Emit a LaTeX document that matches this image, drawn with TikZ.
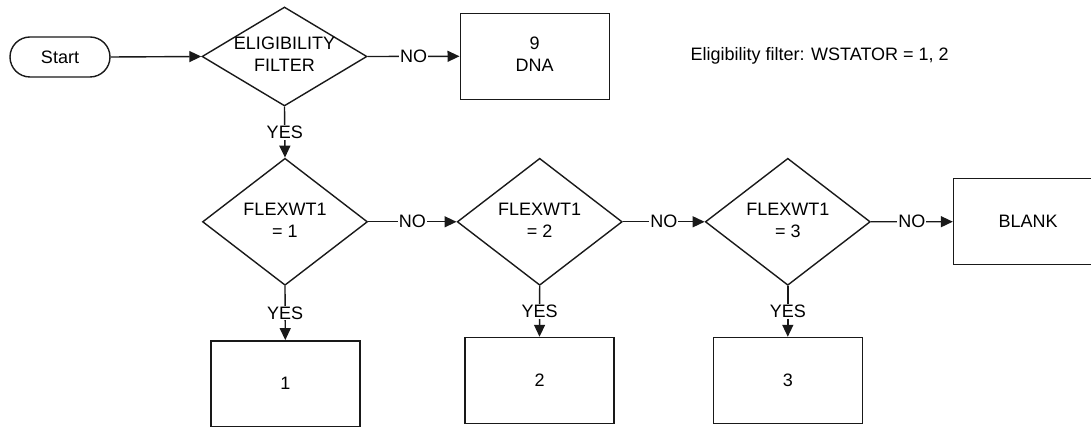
\documentclass[tikz,border=0pt]{standalone}
\usepackage{fontspec}
\setmainfont{Liberation Sans}
\usetikzlibrary{shapes.geometric,arrows.meta}
\begin{document}
\begin{tikzpicture}[x=1pt,y=-1pt,
  every node/.style={font=\fontsize{18}{22}\selectfont},
  line/.style={line width=1.4pt, draw=black!90},
  arr/.style={line, -{Triangle[length=12pt,width=11pt]}},
  dia/.style={diamond, draw=black!90, line width=1.4pt, minimum width=165pt, minimum height=99pt, inner sep=0pt},
  box/.style={rectangle, draw=black!90, line width=1.4pt, minimum width=149pt, minimum height=86pt, inner sep=0pt},
  startbox/.style={rectangle, rounded corners=20pt, draw=black!90, line width=1.4pt, minimum width=100pt, minimum height=40pt, inner sep=0pt},
  lbl/.style={fill=white, inner sep=1pt}
]
\useasboundingbox (0,0) rectangle (1091,427);
\node[startbox] (start) at (60,57) {Start};
\node[dia] (d1) at (284.5,56.5) {\makebox[0pt]{\begin{tabular}{@{}c@{}}ELIGIBILITY\\FILTER\end{tabular}}};
\node[box] (dna) at (534.7,56.3) {\begin{tabular}{@{}c@{}}9\\DNA\end{tabular}};
\node[anchor=west] (note) at (687,56) {Eligibility filter: WSTATOR = 1, 2};

\node[dia] (d2) at (285,221.8) {\begin{tabular}{@{}c@{}}FLEXWT1\\= 1\end{tabular}};
\node[dia] (d3) at (539.7,221.8) {\begin{tabular}{@{}c@{}}FLEXWT1\\= 2\end{tabular}};
\node[dia] (d4) at (787.8,221.8) {\begin{tabular}{@{}c@{}}FLEXWT1\\= 3\end{tabular}};
\node[box] (blank) at (1028,221.7) {BLANK};

\node[box] (b1) at (285.3,383.8) {1};
\node[box] (b2) at (539.5,380.5) {2};
\node[box] (b3) at (787.8,380.5) {3};

\draw[arr] (start.east) -- (d1.west);
\draw[arr] (d1.east) -- node[lbl]{NO} (dna.west);
\draw[arr] (d1.south) -- node[lbl]{YES} (d2.north);
\draw[arr] (d2.east) -- node[lbl]{NO} (d3.west);
\draw[arr] (d3.east) -- node[lbl]{NO} (d4.west);
\draw[arr] (d4.east) -- node[lbl]{NO} (blank.west);
\draw[arr] (d2.south) -- node[lbl]{YES} (b1.north);
\draw[arr] (d3.south) -- node[lbl]{YES} (b2.north);
\draw[arr] (d4.south) -- node[lbl]{YES} (b3.north);
\end{tikzpicture}
\end{document}
